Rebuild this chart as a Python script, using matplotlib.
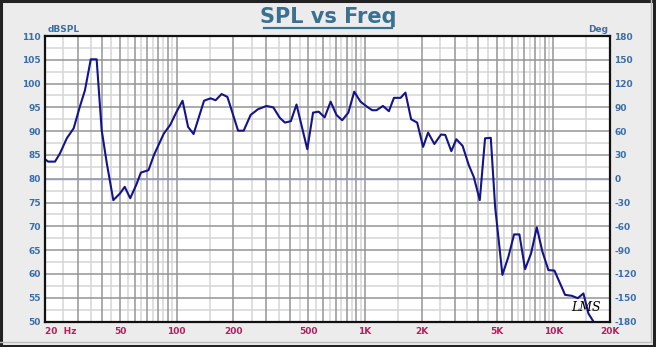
import numpy as np
import matplotlib
matplotlib.use('Agg')
import matplotlib.pyplot as plt
from matplotlib.patches import Rectangle
from matplotlib.lines import Line2D

plt.rcParams['axes.unicode_minus'] = False

# measured response (Hz, dB SPL)
freq = [20, 20.8, 22.6, 24.0, 26.1, 28.4, 30.6, 32.6, 35.0, 37.6, 40.0, 42.6,
        46.1, 50.0, 53.0, 56.7, 61.0, 64.6, 70.9, 75.8, 85.5, 92.4, 100, 107.5,
        115, 123, 139.8, 151.4, 161, 173.3, 186, 212, 227, 247, 270, 300, 326,
        353, 376, 404, 433, 494, 530, 568, 611, 657, 706, 757, 816, 877, 947,
        1028, 1093, 1151, 1246, 1340, 1425, 1545, 1640, 1758, 1893, 2035, 2164,
        2336, 2534, 2670, 2873, 3055, 3300, 3555, 3780, 4070, 4341, 4656, 4910,
        5367, 5775, 6190, 6606, 7081, 7620, 8170, 8750, 9420, 10140, 11550,
        12530, 13490, 14450, 15350, 16330, 20000]
spl = [84.1, 83.6, 83.6, 85.3, 88.5, 90.6, 95.1, 98.6, 105.1, 105.1, 90.2, 83.2,
       75.5, 76.9, 78.3, 75.9, 78.7, 81.3, 81.8, 85.0, 89.5, 91.3, 94.1, 96.4,
       90.9, 89.4, 96.4, 96.9, 96.5, 97.8, 97.2, 90.1, 90.1, 93.4, 94.6, 95.3, 95.0,
       92.8, 91.8, 92.1, 95.6, 86.2, 93.9, 94.1, 92.9, 96.2, 93.4, 92.3, 93.9, 98.3, 96.2,
       95.1, 94.4, 94.4, 95.3, 94.2, 97.0, 97.0, 98.1, 92.5, 91.8, 86.7, 89.7,
       87.3, 89.3, 89.2, 85.8, 88.3, 86.9, 82.9, 80.4, 75.5, 88.5, 88.6, 74.1,
       59.8, 63.6, 68.3, 68.3, 61.0, 64.3, 69.8, 64.7, 60.8, 60.7, 55.6,
       55.4, 54.9, 55.9, 51.7, 50.0, 44.0]

x_ticks = [20, 50, 100, 200, 500, 1000, 2000, 5000, 10000, 20000]
x_labels = ['20  Hz', '50', '100', '200', '500', '1K', '2K', '5K', '10K', '20K']
spl_ticks = list(range(50, 111, 5))
deg_ticks = list(range(-180, 181, 30))

fig = plt.figure(figsize=(6.56, 3.47), dpi=100, facecolor='#ececec')
ax = fig.add_axes([45 / 656, 1 - 321.5 / 347, 565 / 656, 285.5 / 347])
ax.set_facecolor('white')

# grid: dark lines on 1..9 per decade, light lines half way between
for dec in [10, 100, 1000, 10000]:
    for m in range(1, 10):
        f = m * dec
        if 20 < f < 20000:
            ax.axvline(f, color='#959595', lw=1.1, zorder=1)
        fh = (m + 0.5) * dec
        if 20 < fh < 20000:
            ax.axvline(fh, color='#d6d6d6', lw=1.1, zorder=0.9)
for v in np.arange(52.5, 110, 5):
    ax.axhline(v, color='#d6d6d6', lw=1.1, zorder=0.9)
for v in spl_ticks[1:-1]:
    ax.axhline(v, color='#959595', lw=1.1, zorder=1)
ax.axhline(80, color='#9494ea', lw=1.0, zorder=1.5)

ax.plot(freq, spl, color='#14148a', lw=1.5, zorder=3, clip_on=True)

ax.set_xscale('log')
ax.set_xlim(20, 20000)
ax.set_ylim(50, 110)
ax.set_xticks(x_ticks)
ax.set_xticklabels(x_labels)
ax.xaxis.set_minor_locator(matplotlib.ticker.NullLocator())
ax.set_yticks(spl_ticks)
ax.tick_params(axis='x', length=0, pad=4, labelsize=6.5, labelcolor='#b3205c')
ax.tick_params(axis='y', length=0, pad=3, labelsize=6.5, labelcolor='#3a6ea8')
for lab in ax.get_xticklabels() + ax.get_yticklabels():
    lab.set_fontweight('bold')
xl = ax.get_xticklabels()
xl[0].set_horizontalalignment('left')
for sp in ax.spines.values():
    sp.set_linewidth(1.6)
    sp.set_color('#111111')
    sp.set_zorder(5)

ax2 = ax.twinx()
ax2.set_ylim(-180, 180)
ax2.set_yticks(deg_ticks)
ax2.tick_params(axis='y', length=0, pad=3, labelsize=6.5, labelcolor='#3a6ea8')
for lab in ax2.get_yticklabels():
    lab.set_fontweight('bold')
for sp in ax2.spines.values():
    sp.set_visible(False)

fig.text(48 / 656, 1 - 30 / 347, 'dBSPL', fontsize=6.5, fontweight='bold',
         color='#3a6ea8', ha='left', va='center')
fig.text(608 / 656, 1 - 29 / 347, 'Deg', fontsize=6.5, fontweight='bold',
         color='#3a6ea8', ha='right', va='center')

fig.text(328 / 656, 1 - 17 / 347, 'SPL vs Freq', fontsize=15,
         fontweight='bold', color='#3a7090', ha='center', va='center')
# underline under the title
fig.add_artist(Line2D([264 / 656, 392 / 656], [1 - 28 / 347, 1 - 28 / 347],
                      color='#3a7090', lw=1.6))

ax.text(0.958, 0.05, 'LMS', transform=ax.transAxes, fontsize=9,
        fontstyle='italic', family='DejaVu Serif', color='black',
        ha='center', va='center', zorder=6)

# panel border
fig.add_artist(Line2D([651 / 656, 651 / 656], [5 / 347, 1], color='#bdbdbd', lw=1))
fig.add_artist(Line2D([0, 651 / 656], [5 / 347, 5 / 347], color='#bdbdbd', lw=1))
fig.add_artist(Rectangle((0.002, 0.004), 0.995, 0.992, transform=fig.transFigure,
                         fill=False, edgecolor='#222222', lw=2.2))

fig.savefig('out.png', dpi=100, facecolor=fig.get_facecolor())
